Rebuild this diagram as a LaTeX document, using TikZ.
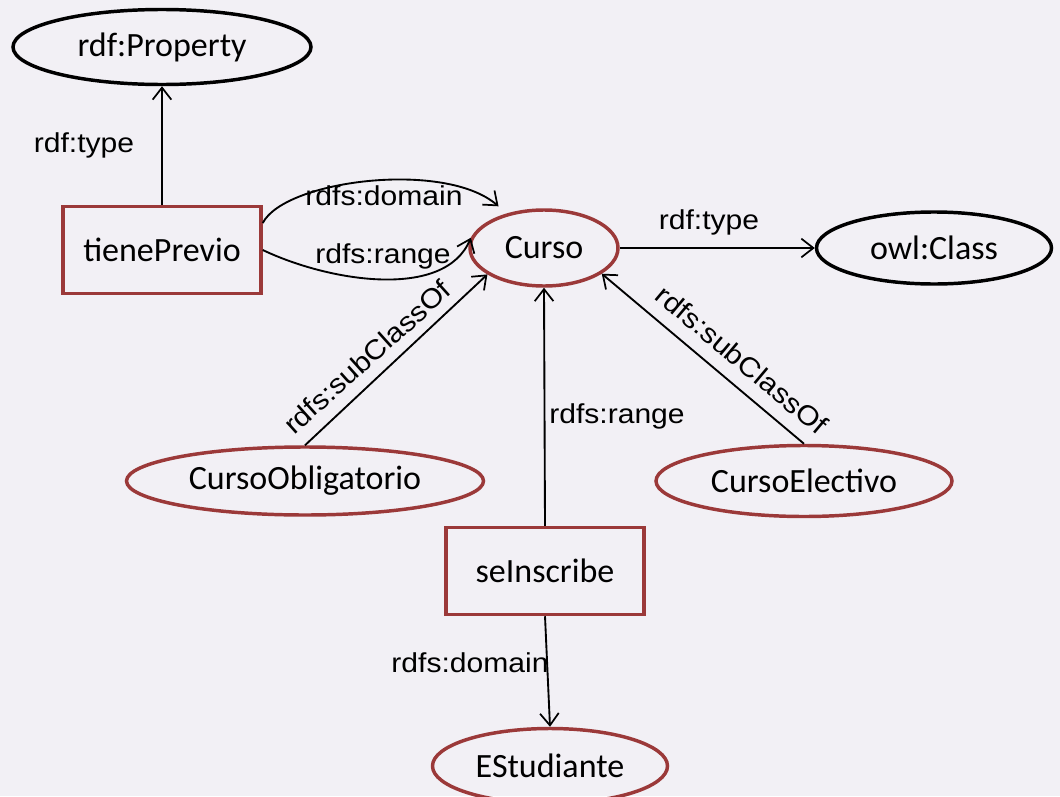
\documentclass[tikz,border=0pt]{standalone}
\usepackage{fontspec}
\setmainfont{Carlito}
\newfontfamily\labfont[FakeStretch=1.1]{Liberation Sans}
\usetikzlibrary{shapes.geometric,arrows.meta}
\definecolor{bg}{RGB}{242,240,245}
\definecolor{brd}{RGB}{155,57,57}
\tikzset{
  nodetext/.style={font=\fontsize{25.5}{28}\selectfont, inner sep=0pt},
  blackell/.style={nodetext, ellipse, draw=black, line width=2.6pt},
  redell/.style={nodetext, ellipse, draw=brd, line width=2.6pt},
  redbox/.style={nodetext, rectangle, draw=brd, line width=2.6pt},
  arr/.style={-{Straight Barb[length=9pt,width=14pt,line width=1.3pt]}, line width=1.4pt, black},
  lab/.style={font=\labfont\fontsize{20.5}{22}\selectfont, inner sep=0pt},
}
\begin{document}
\begin{tikzpicture}[x=0.75pt,y=-0.75pt]
\fill[bg] (0,0) rectangle (1060,796);
\useasboundingbox (0,0) rectangle (1060,796);

\node[blackell, minimum width=223.5pt, minimum height=56.25pt] (prop) at (162,47) {rdf:Property};
\node[redbox, minimum width=148.5pt, minimum height=65.25pt] (tp) at (162,250) {tienePrevio};
\node[redell, minimum width=111pt, minimum height=57pt] (curso) at (544,248) {Curso};
\node[blackell, minimum width=176.25pt, minimum height=54pt] (owl) at (934,248) {owl:Class};
\node[redell, minimum width=267.75pt, minimum height=51pt] (obl) at (305,481) {CursoObligatorio};
\node[redell, minimum width=222pt, minimum height=53.25pt] (el) at (804,481) {CursoElectivo};
\node[redbox, minimum width=148.5pt, minimum height=65.25pt] (sei) at (545,571) {seInscribe};
\node[redell, minimum width=176.25pt, minimum height=56.25pt] (est) at (550,766) {EStudiante};

\draw[arr] (tp.north) -- (prop.south);
\draw[arr] (tp.15) .. controls (285,180) and (445,160) .. ([shift={(-4pt,6pt)}]curso.140);
\draw[arr] (tp.east) .. controls (330,282) and (445,300) .. (curso.172);
\draw[arr] (curso.east) -- (owl.west);
\draw[arr] (obl.north) -- (curso.205);
\draw[arr] (el.north) -- (curso.-24);
\draw[arr] (sei.north) -- (curso.south);
\draw[arr] (sei.south) -- (est.north);

\node[lab] (l1) at (84,145) {rdf:type};
\node[lab] (l2) at (384,196) {rdfs:domain};
\node[lab] (l3) at (383,256) {rdfs:range};
\node[lab] (l4) at (709,222) {rdf:type};
\node[lab] (l5) at (617,416) {rdfs:range};
\node[lab] (l6) at (470,663) {rdfs:domain};
\node[lab, rotate=42] (l7) at (367,357) {rdfs:subClassOf};
\node[lab, rotate=-40] (l8) at (742,360) {rdfs:subClassOf};
\end{tikzpicture}
\end{document}
